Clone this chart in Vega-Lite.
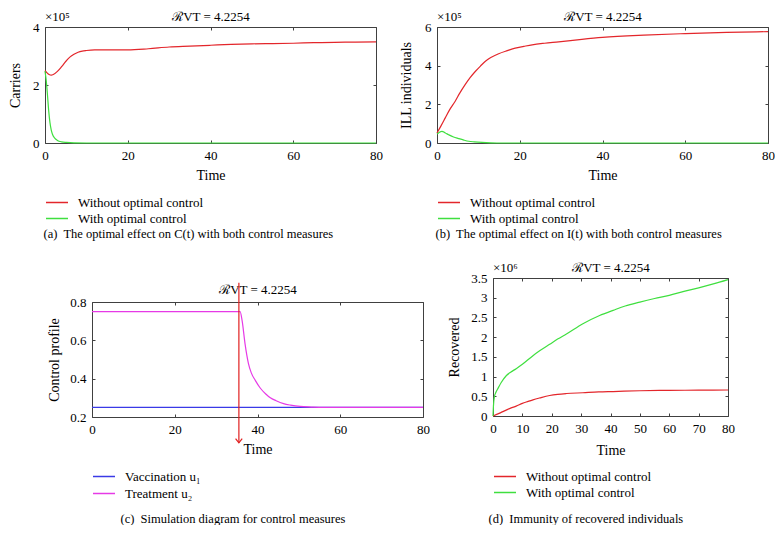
{
"$schema": "https://vega.github.io/schema/vega-lite/v6.json",
"background": "white",
"padding": {"left": 8, "top": 10, "right": 0, "bottom": 0},
"config": {
  "font": "Liberation Serif",
  "view": {"stroke": null},
  "text": {"font": "Liberation Serif"},
  "axis": {"grid": false, "tickSize": -3, "labelPadding": 9, "labelFontSize": 13, "titleFontSize": 14, "titleFontWeight": "normal", "labelFlush": false, "labelOverlap": false, "domainColor": "#404040", "tickColor": "#404040", "labelColor": "#000", "titleColor": "#000", "labelFont": "Liberation Serif", "titleFont": "Liberation Serif", "titleLimit": 1000},
  "legend": {"labelFontSize": 13, "labelLimit": 400, "labelColor": "#000", "symbolType": "M-1,0H3", "symbolSize": 121, "symbolStrokeWidth": 1.5, "labelOffset": 20, "rowPadding": 2, "padding": 0, "orient": "none", "direction": "vertical", "labelFont": "Liberation Serif", "title": null}
},
"datasets": {
  "a": [
    {"t":0,"v":2.50,"s":"Without optimal control"},{"t":0.5,"v":2.42,"s":"Without optimal control"},{"t":1,"v":2.36,"s":"Without optimal control"},{"t":1.5,"v":2.34,"s":"Without optimal control"},{"t":2,"v":2.36,"s":"Without optimal control"},{"t":3,"v":2.47,"s":"Without optimal control"},{"t":4,"v":2.63,"s":"Without optimal control"},{"t":5,"v":2.81,"s":"Without optimal control"},{"t":6,"v":2.96,"s":"Without optimal control"},{"t":7,"v":3.06,"s":"Without optimal control"},{"t":8,"v":3.13,"s":"Without optimal control"},{"t":9,"v":3.17,"s":"Without optimal control"},{"t":10,"v":3.19,"s":"Without optimal control"},{"t":12,"v":3.21,"s":"Without optimal control"},{"t":15,"v":3.21,"s":"Without optimal control"},{"t":20,"v":3.21,"s":"Without optimal control"},{"t":25,"v":3.25,"s":"Without optimal control"},{"t":30,"v":3.31,"s":"Without optimal control"},{"t":35,"v":3.34,"s":"Without optimal control"},{"t":40,"v":3.37,"s":"Without optimal control"},{"t":45,"v":3.40,"s":"Without optimal control"},{"t":50,"v":3.42,"s":"Without optimal control"},{"t":55,"v":3.43,"s":"Without optimal control"},{"t":60,"v":3.44,"s":"Without optimal control"},{"t":65,"v":3.46,"s":"Without optimal control"},{"t":70,"v":3.47,"s":"Without optimal control"},{"t":75,"v":3.48,"s":"Without optimal control"},{"t":80,"v":3.49,"s":"Without optimal control"},
    {"t":0,"v":2.48,"s":"With optimal control"},{"t":0.3,"v":2.15,"s":"With optimal control"},{"t":0.6,"v":1.65,"s":"With optimal control"},{"t":0.9,"v":1.1,"s":"With optimal control"},{"t":1.2,"v":0.7,"s":"With optimal control"},{"t":1.5,"v":0.45,"s":"With optimal control"},{"t":1.8,"v":0.3,"s":"With optimal control"},{"t":2.4,"v":0.16,"s":"With optimal control"},{"t":3,"v":0.09,"s":"With optimal control"},{"t":4,"v":0.04,"s":"With optimal control"},{"t":5.2,"v":0.02,"s":"With optimal control"},{"t":7,"v":0.005,"s":"With optimal control"},{"t":10,"v":0,"s":"With optimal control"},{"t":20,"v":0,"s":"With optimal control"},{"t":40,"v":0,"s":"With optimal control"},{"t":60,"v":0,"s":"With optimal control"},{"t":80,"v":0,"s":"With optimal control"}
  ],
  "b": [
    {"t":0,"v":0.52,"s":"Without optimal control"},{"t":1,"v":0.9,"s":"Without optimal control"},{"t":2,"v":1.3,"s":"Without optimal control"},{"t":3,"v":1.7,"s":"Without optimal control"},{"t":4.4,"v":2.16,"s":"Without optimal control"},{"t":5.5,"v":2.58,"s":"Without optimal control"},{"t":6.8,"v":3.02,"s":"Without optimal control"},{"t":8,"v":3.38,"s":"Without optimal control"},{"t":9.3,"v":3.71,"s":"Without optimal control"},{"t":10.5,"v":3.98,"s":"Without optimal control"},{"t":11.7,"v":4.23,"s":"Without optimal control"},{"t":13,"v":4.42,"s":"Without optimal control"},{"t":14.9,"v":4.62,"s":"Without optimal control"},{"t":17,"v":4.78,"s":"Without optimal control"},{"t":18.9,"v":4.91,"s":"Without optimal control"},{"t":21,"v":5.0,"s":"Without optimal control"},{"t":23,"v":5.08,"s":"Without optimal control"},{"t":26,"v":5.16,"s":"Without optimal control"},{"t":29.4,"v":5.23,"s":"Without optimal control"},{"t":35,"v":5.36,"s":"Without optimal control"},{"t":40,"v":5.46,"s":"Without optimal control"},{"t":50,"v":5.58,"s":"Without optimal control"},{"t":60,"v":5.66,"s":"Without optimal control"},{"t":70,"v":5.72,"s":"Without optimal control"},{"t":80,"v":5.76,"s":"Without optimal control"},
    {"t":0,"v":0.46,"s":"With optimal control"},{"t":0.6,"v":0.56,"s":"With optimal control"},{"t":1.2,"v":0.6,"s":"With optimal control"},{"t":2,"v":0.52,"s":"With optimal control"},{"t":2.8,"v":0.43,"s":"With optimal control"},{"t":4,"v":0.31,"s":"With optimal control"},{"t":5.2,"v":0.23,"s":"With optimal control"},{"t":6.5,"v":0.15,"s":"With optimal control"},{"t":7.7,"v":0.09,"s":"With optimal control"},{"t":9,"v":0.06,"s":"With optimal control"},{"t":10.9,"v":0.03,"s":"With optimal control"},{"t":13,"v":0.01,"s":"With optimal control"},{"t":16,"v":0,"s":"With optimal control"},{"t":20,"v":0,"s":"With optimal control"},{"t":40,"v":0,"s":"With optimal control"},{"t":60,"v":0,"s":"With optimal control"},{"t":80,"v":0,"s":"With optimal control"}
  ],
  "c": [
    {"t":0,"v":0.25,"s":"Vaccination u₁"},{"t":20,"v":0.25,"s":"Vaccination u₁"},{"t":40,"v":0.25,"s":"Vaccination u₁"},{"t":60,"v":0.25,"s":"Vaccination u₁"},{"t":80,"v":0.25,"s":"Vaccination u₁"},
    {"t":0,"v":0.75,"s":"Treatment u₂"},{"t":20,"v":0.75,"s":"Treatment u₂"},{"t":35.8,"v":0.75,"s":"Treatment u₂"},{"t":36.3,"v":0.70,"s":"Treatment u₂"},{"t":37,"v":0.58,"s":"Treatment u₂"},{"t":37.8,"v":0.48,"s":"Treatment u₂"},{"t":38.5,"v":0.43,"s":"Treatment u₂"},{"t":39.5,"v":0.39,"s":"Treatment u₂"},{"t":40.7,"v":0.35,"s":"Treatment u₂"},{"t":42,"v":0.32,"s":"Treatment u₂"},{"t":43.1,"v":0.30,"s":"Treatment u₂"},{"t":44.5,"v":0.285,"s":"Treatment u₂"},{"t":46.3,"v":0.27,"s":"Treatment u₂"},{"t":48,"v":0.262,"s":"Treatment u₂"},{"t":50.3,"v":0.255,"s":"Treatment u₂"},{"t":53,"v":0.252,"s":"Treatment u₂"},{"t":56,"v":0.25,"s":"Treatment u₂"},{"t":60,"v":0.25,"s":"Treatment u₂"},{"t":80,"v":0.25,"s":"Treatment u₂"}
  ],
  "d": [
    {"t":0,"v":0,"s":"Without optimal control"},{"t":2.5,"v":0.08,"s":"Without optimal control"},{"t":4.5,"v":0.15,"s":"Without optimal control"},{"t":6,"v":0.2,"s":"Without optimal control"},{"t":7.9,"v":0.25,"s":"Without optimal control"},{"t":10,"v":0.32,"s":"Without optimal control"},{"t":12,"v":0.37,"s":"Without optimal control"},{"t":13.6,"v":0.41,"s":"Without optimal control"},{"t":16,"v":0.46,"s":"Without optimal control"},{"t":19.3,"v":0.52,"s":"Without optimal control"},{"t":22,"v":0.55,"s":"Without optimal control"},{"t":25,"v":0.57,"s":"Without optimal control"},{"t":30.6,"v":0.59,"s":"Without optimal control"},{"t":36,"v":0.61,"s":"Without optimal control"},{"t":40.9,"v":0.62,"s":"Without optimal control"},{"t":50,"v":0.64,"s":"Without optimal control"},{"t":60,"v":0.65,"s":"Without optimal control"},{"t":70,"v":0.655,"s":"Without optimal control"},{"t":80,"v":0.66,"s":"Without optimal control"},
    {"t":0,"v":0,"s":"With optimal control"},{"t":0.15,"v":0.25,"s":"With optimal control"},{"t":0.5,"v":0.5,"s":"With optimal control"},{"t":1,"v":0.6,"s":"With optimal control"},{"t":1.7,"v":0.7,"s":"With optimal control"},{"t":2.8,"v":0.85,"s":"With optimal control"},{"t":4.5,"v":1.02,"s":"With optimal control"},{"t":6,"v":1.11,"s":"With optimal control"},{"t":7.9,"v":1.2,"s":"With optimal control"},{"t":10,"v":1.31,"s":"With optimal control"},{"t":13.6,"v":1.53,"s":"With optimal control"},{"t":16,"v":1.66,"s":"With optimal control"},{"t":19.3,"v":1.82,"s":"With optimal control"},{"t":22,"v":1.95,"s":"With optimal control"},{"t":25,"v":2.08,"s":"With optimal control"},{"t":30.6,"v":2.34,"s":"With optimal control"},{"t":36.3,"v":2.55,"s":"With optimal control"},{"t":40.9,"v":2.68,"s":"With optimal control"},{"t":45,"v":2.79,"s":"With optimal control"},{"t":50,"v":2.89,"s":"With optimal control"},{"t":55,"v":2.98,"s":"With optimal control"},{"t":60,"v":3.06,"s":"With optimal control"},{"t":65,"v":3.16,"s":"With optimal control"},{"t":70,"v":3.25,"s":"With optimal control"},{"t":75,"v":3.35,"s":"With optimal control"},{"t":80,"v":3.46,"s":"With optimal control"}
  ]
},
"spacing": 21,
"resolve": {"scale": {"color": "independent"}, "legend": {"color": "independent"}},
"vconcat": [
  {
    "spacing": 15,
    "resolve": {"scale": {"color": "independent"}, "legend": {"color": "independent"}},
    "hconcat": [
      {
        "width": 331, "height": 116,
        "layer": [
          {
            "data": {"name": "a"},
            "mark": {"type": "line", "interpolate": "monotone", "strokeWidth": 1.2},
            "encoding": {
              "x": {"field": "t", "type": "quantitative", "scale": {"domain": [0, 80], "nice": false}, "axis": {"values": [0, 20, 40, 60, 80], "title": "Time", "titlePadding": 6}},
              "y": {"field": "v", "type": "quantitative", "scale": {"domain": [0, 4], "nice": false}, "axis": {"values": [0, 2, 4], "title": "Carriers", "titleX": -26, "titleBaseline": "alphabetic"}},
              "color": {"field": "s", "type": "nominal", "sort": null, "scale": {"domain": ["Without optimal control", "With optimal control"], "range": ["#e3262b", "#3fdf3f"]}, "legend": {"legendX": 0, "legendY": 169}}
            }
          },
          {
            "data": {"values": [{}]},
            "mark": {"type": "text", "align": "left", "baseline": "alphabetic", "dy": -6, "fontSize": 13},
            "encoding": {
              "x": {"datum": 0, "type": "quantitative", "scale": {"domain": [0, 80], "nice": false}, "axis": {"orient": "top", "labels": false, "values": [0, 20, 40, 60, 80], "title": "ℛVT = 4.2254", "titleFontSize": 13, "titleX": 165.5, "titleY": -7, "titleAlign": "center", "titleBaseline": "alphabetic"}},
              "y": {"datum": 4, "type": "quantitative", "scale": {"domain": [0, 4], "nice": false}, "axis": {"orient": "right", "labels": false, "title": null, "values": [0, 2, 4]}},
              "text": {"value": "×10⁵"}
            }
          },
          {
            "data": {"values": [{}]},
            "mark": {"type": "text", "fontSize": 1},
            "encoding": {
              "x": {"datum": 0, "type": "quantitative", "scale": {"domain": [0, 80], "nice": false}, "axis": {"orient": "bottom", "domain": false, "ticks": false, "labels": false, "title": "(a)\u00a0 The optimal effect on C(t) with both control measures", "titleFontSize": 12.5, "titleX": -2, "titleY": 94, "titleAlign": "left", "titleAnchor": "start", "titleBaseline": "alphabetic"}},
              "y": {"datum": 0, "type": "quantitative", "scale": {"domain": [0, 4], "nice": false}, "axis": null},
              "text": {"value": ""}
            }
          }
        ],
        "resolve": {"axis": {"x": "independent", "y": "independent"}}
      },
      {
        "width": 331, "height": 116,
        "layer": [
          {
            "data": {"name": "b"},
            "mark": {"type": "line", "interpolate": "monotone", "strokeWidth": 1.2},
            "encoding": {
              "x": {"field": "t", "type": "quantitative", "scale": {"domain": [0, 80], "nice": false}, "axis": {"values": [0, 20, 40, 60, 80], "title": "Time", "titlePadding": 6}},
              "y": {"field": "v", "type": "quantitative", "scale": {"domain": [0, 6], "nice": false}, "axis": {"values": [0, 2, 4, 6], "title": "ILL individuals", "titleX": -27, "titleBaseline": "alphabetic"}},
              "color": {"field": "s", "type": "nominal", "sort": null, "scale": {"domain": ["Without optimal control", "With optimal control"], "range": ["#e3262b", "#3fdf3f"]}, "legend": {"legendX": 0, "legendY": 169}}
            }
          },
          {
            "data": {"values": [{}]},
            "mark": {"type": "text", "align": "left", "baseline": "alphabetic", "dy": -6, "fontSize": 13},
            "encoding": {
              "x": {"datum": 0, "type": "quantitative", "scale": {"domain": [0, 80], "nice": false}, "axis": {"orient": "top", "labels": false, "values": [0, 20, 40, 60, 80], "title": "ℛVT = 4.2254", "titleFontSize": 13, "titleX": 165.5, "titleY": -7, "titleAlign": "center", "titleBaseline": "alphabetic"}},
              "y": {"datum": 6, "type": "quantitative", "scale": {"domain": [0, 6], "nice": false}, "axis": {"orient": "right", "labels": false, "title": null, "values": [0, 2, 4, 6]}},
              "text": {"value": "×10⁵"}
            }
          },
          {
            "data": {"values": [{}]},
            "mark": {"type": "text", "fontSize": 1},
            "encoding": {
              "x": {"datum": 0, "type": "quantitative", "scale": {"domain": [0, 80], "nice": false}, "axis": {"orient": "bottom", "domain": false, "ticks": false, "labels": false, "title": "(b)\u00a0 The optimal effect on I(t) with both control measures", "titleFontSize": 12.5, "titleX": -2, "titleY": 94, "titleAlign": "left", "titleAnchor": "start", "titleBaseline": "alphabetic"}},
              "y": {"datum": 0, "type": "quantitative", "scale": {"domain": [0, 6], "nice": false}, "axis": null},
              "text": {"value": ""}
            }
          }
        ],
        "resolve": {"axis": {"x": "independent", "y": "independent"}}
      }
    ]
  },
  {
    "spacing": 0,
    "resolve": {"scale": {"color": "independent"}, "legend": {"color": "independent"}},
    "hconcat": [
      {"width": 1, "height": 1, "data": {"values": []}, "mark": {"type": "point", "opacity": 0}},
      {
        "spacing": 16,
        "resolve": {"scale": {"color": "independent"}, "legend": {"color": "independent"}},
        "hconcat": [
          {
            "spacing": 0,
            "resolve": {"scale": {"color": "independent"}, "legend": {"color": "independent"}},
            "vconcat": [
              {"width": 1, "height": 3.4, "data": {"values": []}, "mark": {"type": "point", "opacity": 0}},
              {
                "width": 331, "height": 115,
                "layer": [
                  {
                    "data": {"name": "c"},
                    "mark": {"type": "line", "interpolate": "monotone", "strokeWidth": 1.2},
                    "encoding": {
                      "x": {"field": "t", "type": "quantitative", "scale": {"domain": [0, 80], "nice": false}, "axis": {"values": [0, 20, 40, 60, 80], "title": "Time", "titlePadding": 6}},
                      "y": {"field": "v", "type": "quantitative", "scale": {"domain": [0.2, 0.8], "nice": false, "zero": false}, "axis": {"values": [0.2, 0.4, 0.6, 0.8], "format": ".1f", "title": "Control profile", "titleX": -34, "titleBaseline": "alphabetic"}},
                      "color": {"field": "s", "type": "nominal", "sort": null, "scale": {"domain": ["Vaccination u₁", "Treatment u₂"], "range": ["#3a3ae6", "#e63ae6"]}, "legend": {"legendX": 0, "legendY": 168, "rowPadding": 3}}
                    }
                  },
                  {
                    "data": {"values": [{}]},
                    "mark": {"type": "rule", "color": "#e02020", "strokeWidth": 1.2},
                    "encoding": {
                      "x": {"datum": 35.5, "type": "quantitative", "scale": {"domain": [0, 80], "nice": false}, "axis": {"orient": "top", "labels": false, "values": [0, 20, 40, 60, 80], "title": "ℛVT = 4.2254", "titleFontSize": 13, "titleX": 165.5, "titleY": -9, "titleAlign": "center", "titleBaseline": "alphabetic"}},
                      "y": {"datum": 0.9, "type": "quantitative", "scale": {"domain": [0.2, 0.8], "nice": false, "zero": false}, "axis": {"orient": "right", "labels": false, "title": null, "values": [0.2, 0.4, 0.6, 0.8]}},
                      "y2": {"datum": 0.065}
                    }
                  },
                  {
                    "data": {"values": [{}]},
                    "mark": {"type": "point", "shape": "M-1,-1.3L0,0L1,-1.3", "filled": false, "color": "#e02020", "size": 44, "strokeWidth": 1.2, "opacity": 1},
                    "encoding": {
                      "x": {"datum": 35.5, "type": "quantitative", "scale": {"domain": [0, 80], "nice": false}, "axis": {"orient": "bottom", "domain": false, "ticks": false, "labels": false, "title": "(c)\u00a0 Simulation diagram for control measures", "titleFontSize": 12.5, "titleX": 28, "titleY": 105, "titleAlign": "left", "titleAnchor": "start", "titleBaseline": "alphabetic"}},
                      "y": {"datum": 0.065, "type": "quantitative", "scale": {"domain": [0.2, 0.8], "nice": false, "zero": false}, "axis": null}
                    }
                  }
                ],
                "resolve": {"axis": {"x": "independent", "y": "independent"}}
              }
            ]
          },
          {
            "width": 235, "height": 138,
            "layer": [
              {
                "data": {"name": "d"},
                "mark": {"type": "line", "interpolate": "monotone", "strokeWidth": 1.2},
                "encoding": {
                  "x": {"field": "t", "type": "quantitative", "scale": {"domain": [0, 80], "nice": false}, "axis": {"values": [0, 10, 20, 30, 40, 50, 60, 70, 80], "title": "Time", "titlePadding": 8}},
                  "y": {"field": "v", "type": "quantitative", "scale": {"domain": [0, 3.5], "nice": false}, "axis": {"values": [0, 0.5, 1, 1.5, 2, 2.5, 3, 3.5], "format": "~g", "title": "Recovered", "titleX": -35, "titleBaseline": "alphabetic"}},
                  "color": {"field": "s", "type": "nominal", "sort": null, "scale": {"domain": ["Without optimal control", "With optimal control"], "range": ["#e3262b", "#3fdf3f"]}, "legend": {"legendX": 0, "legendY": 192}}
                }
              },
              {
                "data": {"values": [{}]},
                "mark": {"type": "text", "align": "left", "baseline": "alphabetic", "dy": -6, "fontSize": 13},
                "encoding": {
                  "x": {"datum": 0, "type": "quantitative", "scale": {"domain": [0, 80], "nice": false}, "axis": {"orient": "top", "labels": false, "values": [0, 10, 20, 30, 40, 50, 60, 70, 80], "title": "ℛVT = 4.2254", "titleFontSize": 13, "titleX": 117.5, "titleY": -7, "titleAlign": "center", "titleBaseline": "alphabetic"}},
                  "y": {"datum": 3.5, "type": "quantitative", "scale": {"domain": [0, 3.5], "nice": false}, "axis": {"orient": "right", "labels": false, "title": null, "values": [0, 0.5, 1, 1.5, 2, 2.5, 3, 3.5]}},
                  "text": {"value": "×10⁶"}
                }
              },
              {
                "data": {"values": [{}]},
                "mark": {"type": "text", "fontSize": 1},
                "encoding": {
                  "x": {"datum": 0, "type": "quantitative", "scale": {"domain": [0, 80], "nice": false}, "axis": {"orient": "bottom", "domain": false, "ticks": false, "labels": false, "title": "(d)\u00a0 Immunity of recovered individuals", "titleFontSize": 12.5, "titleX": -5, "titleY": 106, "titleAlign": "left", "titleAnchor": "start", "titleBaseline": "alphabetic"}},
                  "y": {"datum": 0, "type": "quantitative", "scale": {"domain": [0, 3.5], "nice": false}, "axis": null},
                  "text": {"value": ""}
                }
              }
            ],
            "resolve": {"axis": {"x": "independent", "y": "independent"}}
          }
        ]
      }
    ]
  }
]
}
